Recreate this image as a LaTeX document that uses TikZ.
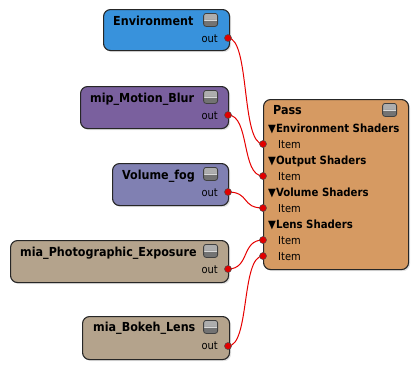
\documentclass[tikz,border=0pt]{standalone}
\usepackage{fontspec}
\setmainfont{DejaVu Sans Condensed}
\usetikzlibrary{shadows}
\definecolor{envblue}{RGB}{56,146,220}
\definecolor{mbpurple}{RGB}{122,96,158}
\definecolor{vfblue}{RGB}{128,128,178}
\definecolor{tan}{RGB}{180,163,140}
\definecolor{passorange}{RGB}{214,154,98}
\definecolor{portred}{RGB}{225,0,0}
\definecolor{wirered}{RGB}{230,0,0}
\begin{document}
\begin{tikzpicture}[x=1pt,y=-1pt,
  box/.style={draw=black!85, line width=1.1pt, rounded corners=7pt, anchor=north west, inner sep=0pt,
    drop shadow={opacity=0.22, shadow xshift=1.5pt, shadow yshift=-1.5pt}},
  title/.style={anchor=base west, font=\bfseries\fontsize{12.4}{12.4}\selectfont, inner sep=0pt},
  outlbl/.style={anchor=base east, font=\fontsize{11}{11}\selectfont, inner sep=0pt},
  item/.style={anchor=base west, font=\fontsize{11}{11}\selectfont, inner sep=0pt},
  hdr/.style={anchor=base west, font=\bfseries\fontsize{11.3}{11.3}\selectfont, inner sep=0pt},
  icon/.style={draw=black!75, line width=0.8pt, rounded corners=2.5pt, minimum width=14pt, minimum height=13pt,
    inner sep=0pt, fill=black!32, anchor=north east,
    path picture={\fill[black!55] (path picture bounding box.west) rectangle (path picture bounding box.south east);
      \draw[black!15, line width=0.8pt] (path picture bounding box.west) -- (path picture bounding box.east);}},
  port/.style={circle, fill=portred, draw=black!70, line width=0.5pt, minimum size=7pt, inner sep=0pt},
  wire/.style={draw=wirered, line width=1pt}
]
\useasboundingbox (0,0) rectangle (419,372);

% source nodes
\node[box, fill=envblue, minimum width=126pt, minimum height=41pt] (env) at (103,9) {};
\node[title] (envt) at (113,25) {Environment};
\node[outlbl] (envo) at (218,42) {out};
\node[icon] (envi) at (218,13) {};

\node[box, fill=mbpurple, minimum width=148pt, minimum height=42pt] (mb) at (80,86) {};
\node[title] (mbt) at (90,102) {mip\_Motion\_Blur};
\node[outlbl] (mbo) at (218,119) {out};
\node[icon] (mbi) at (218,90) {};

\node[box, fill=vfblue, minimum width=116pt, minimum height=42pt] (vf) at (112,163) {};
\node[title] (vft) at (122,179) {Volume\_fog};
\node[outlbl] (vfo) at (218,196) {out};
\node[icon] (vfi) at (218,167) {};

\node[box, fill=tan, minimum width=218pt, minimum height=42pt] (pe) at (10,240) {};
\node[title] (pet) at (20,256) {mia\_Photographic\_Exposure};
\node[outlbl] (peo) at (218,273) {out};
\node[icon] (pei) at (218,244) {};

\node[box, fill=tan, minimum width=147pt, minimum height=43pt] (bl) at (82,316) {};
\node[title] (blt) at (93,331) {mia\_Bokeh\_Lens};
\node[outlbl] (blo) at (218,349) {out};
\node[icon] (bli) at (218,320) {};

% Pass node
\node[box, fill=passorange, minimum width=145pt, minimum height=170pt] (pass) at (263,99) {};
\node[title] (passt) at (273,114) {Pass};
\node[icon] (passi) at (397,103) {};
\node[hdr] (h1) at (268,132) {▼Environment Shaders};
\node[item] (i1) at (278,148) {Item};
\node[hdr] (h2) at (268,164) {▼Output Shaders};
\node[item] (i2) at (278,180) {Item};
\node[hdr] (h3) at (268,196) {▼Volume Shaders};
\node[item] (i3) at (278,212) {Item};
\node[hdr] (h4) at (268,228) {▼Lens Shaders};
\node[item] (i4) at (278,244) {Item};
\node[item] (i5) at (278,260) {Item};

% port coordinates
\coordinate (o1) at (228,38);
\coordinate (o2) at (228,115);
\coordinate (o3) at (228,192);
\coordinate (o4) at (228,269);
\coordinate (o5) at (228,346);
\coordinate (p1) at (263,144);
\coordinate (p2) at (263,176);
\coordinate (p3) at (263,208);
\coordinate (p4) at (263,240);
\coordinate (p5) at (263,256);

% wires
\draw[wire] (o1) .. controls +(22,0) and +(-22,0) .. (p1);
\draw[wire] (o2) .. controls +(22,0) and +(-22,0) .. (p2);
\draw[wire] (o3) .. controls +(22,0) and +(-22,0) .. (p3);
\draw[wire] (o4) .. controls +(22,0) and +(-22,0) .. (p4);
\draw[wire] (o5) .. controls +(22,0) and +(-22,0) .. (p5);

% ports
\foreach \c in {o1,o2,o3,o4,o5,p1,p2,p3,p4,p5}
  \node[port] (port-\c) at (\c) {};
\end{tikzpicture}
\end{document}
